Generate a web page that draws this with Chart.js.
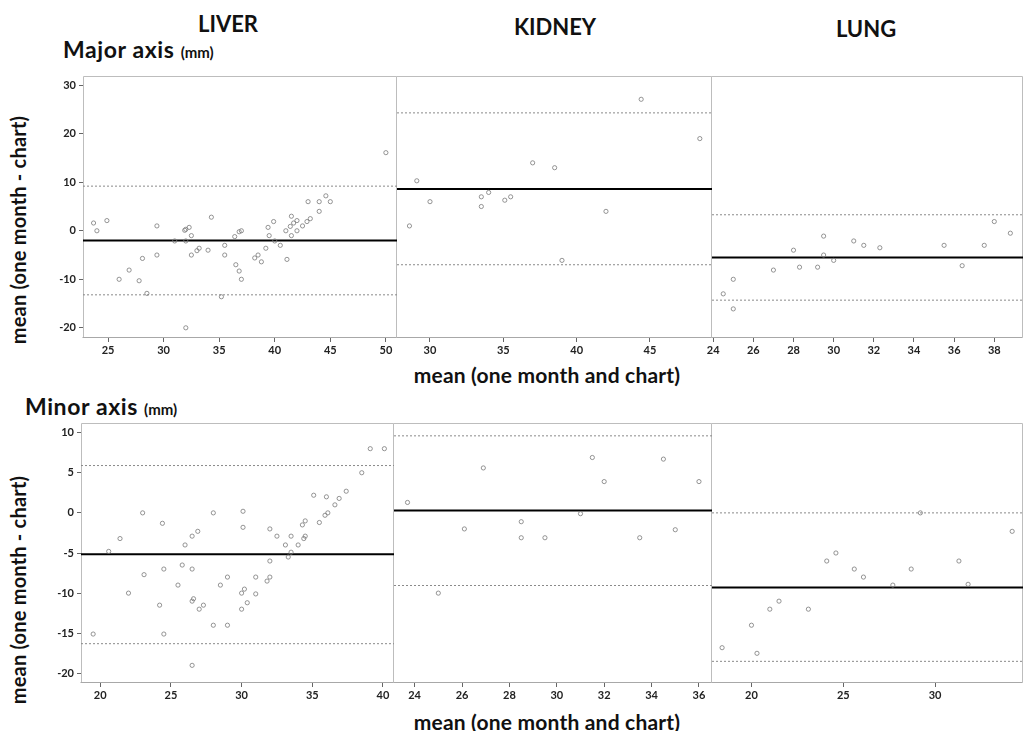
<!DOCTYPE html>
<html>
<head>
<meta charset="utf-8">
<script src="https://cdn.jsdelivr.net/npm/chart.js@4.4.0/dist/chart.umd.min.js"></script>
<style>
  body { margin: 0; background: #fff; }
  #wrap { position: relative; width: 1027px; height: 731px; overflow: hidden; font-family: Lato, sans-serif; }
  #wrap canvas { position: absolute; }
  .t { position: absolute; font-weight: bold; color: #111; line-height: 1; white-space: nowrap; }
  .organ { font-size: 22px; transform: translateX(-50%); }
  .sub { font-size: 23px; letter-spacing: 0.6px; }
  .sub span { font-size: 15px; letter-spacing: 0; }
  .ytitle { font-size: 20px; letter-spacing: 0.2px; width: 300px; height: 20px; text-align: center; transform: rotate(-90deg); }
  .xtitle { font-size: 21px; letter-spacing: 0.2px; transform: translateX(-50%); }
</style>
</head>
<body>
<div id="wrap">
  <div class="t organ" style="left:228px; top:13px;">LIVER</div>
  <div class="t organ" style="left:555px; top:16px;">KIDNEY</div>
  <div class="t organ" style="left:866px; top:18px;">LUNG</div>
  <div class="t sub" style="left:63px; top:38px;">Major axis <span>(mm)</span></div>
  <div class="t sub" style="left:25px; top:395px;">Minor axis <span>(mm)</span></div>
  <div class="t ytitle" style="left:-132px; top:220px;">mean (one month - chart)</div>
  <div class="t ytitle" style="left:-132px; top:580px;">mean (one month - chart)</div>
  <div class="t xtitle" style="left:547px; top:364px;">mean (one month and chart)</div>
  <div class="t xtitle" style="left:547px; top:711px;">mean (one month and chart)</div>
</div>
<script>
// ---- data (x = mean, y = difference) ----
// stats = [mean difference, upper limit, lower limit]
const liverMajorX = [23.7, 24.0, 24.9, 26.0, 26.9, 27.8, 28.1, 28.5, 29.4, 29.4, 31.0, 31.9, 32.0, 32.3, 32.0, 32.5, 32.5, 33.0, 33.2, 34.0,
  34.3, 35.2, 35.5, 35.5, 36.4, 36.5, 36.8, 37.0, 36.8, 37.0, 32.0, 38.2, 38.5, 38.8, 39.2, 39.4, 39.5, 39.9, 40.0, 40.5,
  41.1, 41.0, 41.4, 41.5, 41.5, 41.7, 42.0, 42.0, 42.5, 42.9, 43.2, 43.0, 44.0, 44.0, 44.6, 45.0, 50.0];
const liverMajorY = [1.6, 0, 2.1, -10, -8.1, -10.3, -5.7, -12.9, 1.0, -5.0, -2.1, 0.1, 0.3, 0.7, -2.1, -1.0, -5.0, -4.1, -3.6, -4.0,
  2.8, -13.6, -3.0, -5.0, -1.2, -7.0, -8.3, -10.0, -0.2, 0, -20, -5.6, -5.0, -6.4, -3.6, 0.7, -1.0, 1.9, -2.1, -3.0,
  -5.9, 0, 0.9, 3.0, -1.0, 1.6, 2.1, 0, 1.0, 1.9, 2.5, 6.0, 6.0, 4.0, 7.2, 6.0, 16.1];
const liverMajorStats = [-2.0, 9.2, -13.2];

const kidneyMajorX = [29.1, 28.6, 30.0, 33.5, 33.5, 34.0, 35.1, 35.5, 37.0, 38.5, 39.0, 42.0, 44.4, 48.4];
const kidneyMajorY = [10.3, 1.0, 6.0, 7.0, 5.0, 7.9, 6.3, 7.0, 14.0, 13.0, -6.1, 4.0, 27.1, 19.0];
const kidneyMajorStats = [8.6, 24.3, -7.0];

const lungMajorX = [24.5, 25.0, 25.0, 27.0, 28.0, 28.3, 29.2, 29.5, 29.5, 30.0, 31.0, 31.5, 32.3, 35.5, 36.4, 37.5, 38.0, 38.8];
const lungMajorY = [-13.0, -10.0, -16.1, -8.1, -4.0, -7.5, -7.5, -1.1, -5.0, -6.1, -2.1, -3.0, -3.5, -3.0, -7.2, -3.0, 1.9, -0.5];
const lungMajorStats = [-5.5, 3.3, -14.3];

const liverMinorX = [19.5, 20.6, 21.4, 22.0, 23.0, 23.1, 24.4, 24.2, 24.5, 24.5, 25.5, 25.8, 26.0, 26.5, 26.5, 26.9, 26.5, 26.6, 27.0, 27.3,
  28.0, 28.0, 28.5, 29.0, 29.0, 30.1, 30.1, 30.0, 30.2, 30.0, 30.4, 31.0, 31.0, 31.8, 32.0, 32.0, 32.0, 32.5, 33.1, 33.3,
  33.5, 33.5, 34.0, 34.3, 34.5, 34.4, 34.5, 35.1, 35.5, 35.9, 36.1, 36.0, 36.6, 36.9, 37.4, 38.5, 39.1, 40.1, 26.5];
const liverMinorY = [-15.1, -4.8, -3.2, -10.0, 0, -7.7, -1.3, -11.5, -7.0, -15.1, -9.0, -6.5, -4.0, -7.0, -2.9, -2.3, -11.0, -10.7, -12.0, -11.5,
  0, -14.0, -9.0, -8.0, -14.0, 0.2, -1.8, -10.0, -9.5, -12.0, -11.2, -10.1, -8.0, -8.5, -8.0, -6.0, -2.0, -2.9, -4.0, -5.5,
  -4.9, -2.9, -4.0, -1.5, -1.0, -3.2, -2.9, 2.2, -1.2, -0.3, 0, 2.0, 1.0, 1.8, 2.7, 5.0, 8.0, 8.0, -19.0];
const liverMinorStats = [-5.15, 5.9, -16.3];

const kidneyMinorX = [23.7, 25.0, 26.1, 26.9, 28.5, 28.5, 29.5, 31.0, 31.5, 32.0, 33.5, 34.5, 35.0, 36.0];
const kidneyMinorY = [1.3, -10.0, -2.0, 5.6, -1.1, -3.1, -3.1, -0.1, 6.9, 3.9, -3.1, 6.7, -2.1, 3.9];
const kidneyMinorStats = [0.3, 9.6, -9.05];

const lungMinorX = [18.4, 20.0, 20.3, 21.0, 21.5, 23.1, 24.1, 24.6, 25.6, 26.1, 27.7, 28.7, 29.2, 31.3, 31.8, 34.2];
const lungMinorY = [-16.8, -14.0, -17.5, -12.0, -11.0, -12.0, -6.0, -5.0, -7.0, -8.0, -9.0, -7.0, 0, -6.0, -8.9, -2.3];
const lungMinorStats = [-9.3, 0.0, -18.5];

// axis ranges and tick steps
const majorYRange = [-22.1, 31.9];
const minorYRange = [-21.2, 11.2];
const majorYStep = 10;
const minorYStep = 5;

Chart.defaults.font.family = 'Lato';

const PAD = 12, AXIS_H = 30;
const wrap = document.getElementById('wrap');

// thin grey box round each panel (left side only on the first column,
// the others share the neighbour's right edge)
const frame = {
  id: 'frame',
  beforeDatasetsDraw(chart) {
    const a = chart.chartArea, ctx = chart.ctx;
    const l = Math.round(a.left) + 0.5, r = Math.round(a.right) - 0.5;
    const t = Math.round(a.top) + 0.5, b = Math.round(a.bottom) - 0.5;
    ctx.save();
    ctx.lineWidth = 1;
    ctx.strokeStyle = '#bdbdbd';
    ctx.beginPath();
    if (chart.options.scales.y.display) { ctx.moveTo(l, b); ctx.lineTo(l, t); } else { ctx.moveTo(l - 1, t); }
    ctx.lineTo(r, t);
    ctx.lineTo(r, b);
    ctx.stroke();
    ctx.strokeStyle = '#a8a8a8';
    ctx.beginPath();
    ctx.moveTo(l - 1, b);
    ctx.lineTo(r, b);
    ctx.stroke();
    ctx.restore();
  }
};

function hline(xr, y, color, width, dash) {
  return {
    data: [{x: xr[0], y: y}, {x: xr[1], y: y}],
    showLine: true, borderColor: color, borderWidth: width, borderDash: dash,
    pointRadius: 0, pointHoverRadius: 0, order: 2
  };
}

function addPanel(p) {
  // p.box = [left, top, right, bottom] of the plot area on the page
  const [bl, bt, br, bb] = p.box;
  const left = p.showY ? 0 : bl - PAD;
  const c = document.createElement('canvas');
  c.width = Math.round(br - left + PAD);
  c.height = Math.round(bb - bt + PAD + AXIS_H);
  c.style.left = left + 'px';
  c.style.top = (bt - PAD) + 'px';
  wrap.appendChild(c);

  const tickFont = {size: 11, weight: 'bold'};
  new Chart(c.getContext('2d'), {
    type: 'scatter',
    data: {
      datasets: [
        {
          data: p.xs.map((x, i) => ({x: x, y: p.ys[i]})),
          pointRadius: 2.1, pointBorderWidth: 0.8,
          borderColor: '#7a7a7a', backgroundColor: 'rgba(0,0,0,0)', order: 1
        },
        hline(p.xRange, p.stats[0], '#000', 2, []),
        hline(p.xRange, p.stats[1], '#8a8a8a', 1, [2, 2]),
        hline(p.xRange, p.stats[2], '#8a8a8a', 1, [2, 2])
      ]
    },
    options: {
      responsive: false,
      animation: false,
      devicePixelRatio: 1,
      layout: {padding: {top: PAD, right: PAD, left: p.showY ? 0 : PAD, bottom: 0}},
      plugins: {legend: {display: false}, tooltip: {enabled: false}},
      scales: {
        x: {
          type: 'linear', min: p.xRange[0], max: p.xRange[1],
          ticks: {stepSize: p.xStep, includeBounds: false, autoSkip: false, maxRotation: 0,
            font: tickFont, color: '#222', padding: 2},
          grid: {drawOnChartArea: false, tickLength: 4, color: '#666'},
          border: {display: false},
          afterFit: s => { s.height = AXIS_H; }
        },
        y: {
          display: p.showY,
          type: 'linear', min: p.yRange[0], max: p.yRange[1],
          ticks: {stepSize: p.yStep, includeBounds: false, autoSkip: false,
            font: tickFont, color: '#222', padding: 3},
          grid: {drawOnChartArea: false, tickLength: 4, color: '#666'},
          border: {display: false},
          afterFit: s => { s.width = p.showY ? bl : 0; }
        }
      }
    },
    plugins: [frame]
  });
}

addPanel({box: [83, 76, 397, 338], showY: true, xRange: [22.75, 51.0], xStep: 5,
  yRange: majorYRange, yStep: majorYStep, xs: liverMajorX, ys: liverMajorY, stats: liverMajorStats});
addPanel({box: [397, 76, 712, 338], showY: false, xRange: [27.75, 49.23], xStep: 5,
  yRange: majorYRange, yStep: majorYStep, xs: kidneyMajorX, ys: kidneyMajorY, stats: kidneyMajorStats});
addPanel({box: [712, 76, 1023, 338], showY: false, xRange: [23.94, 39.43], xStep: 2,
  yRange: majorYRange, yStep: majorYStep, xs: lungMajorX, ys: lungMajorY, stats: lungMajorStats});

addPanel({box: [81, 423, 394, 683], showY: true, xRange: [18.64, 40.78], xStep: 5,
  yRange: minorYRange, yStep: minorYStep, xs: liverMinorX, ys: liverMinorY, stats: liverMinorStats});
addPanel({box: [394, 423, 712, 683], showY: false, xRange: [23.13, 36.55], xStep: 2,
  yRange: minorYRange, yStep: minorYStep, xs: kidneyMinorX, ys: kidneyMinorY, stats: kidneyMinorStats});
addPanel({box: [712, 423, 1023, 683], showY: false, xRange: [17.85, 34.79], xStep: 5,
  yRange: minorYRange, yStep: minorYStep, xs: lungMinorX, ys: lungMinorY, stats: lungMinorStats});
</script>
</body>
</html>
